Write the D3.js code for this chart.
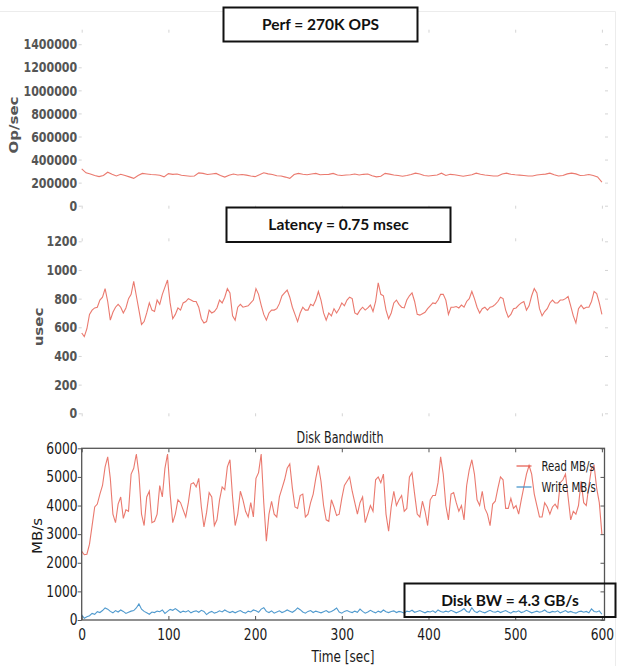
<!DOCTYPE html>
<html>
<head>
<meta charset="utf-8">
<script src="https://cdn.jsdelivr.net/npm/d3@7"></script>
<style>
body{margin:0;background:#fff;}
</style>
</head>
<body>
<div id="chart"></div>
<script>
// time axis (seconds)
var opsTime = d3.range(0,601,5);
var bwTime = d3.range(0,601,3);
var timeTicks = [0,100,200,300,400,500,600];

// Op/sec, every 5 s
var opsValues = [
  320000,285000,275000,262000,252000,262000,290000,272000,258000,272000,
  262000,250000,237000,262000,280000,275000,270000,268000,264000,250000,
  278000,272000,275000,264000,260000,255000,258000,285000,280000,270000,
  275000,280000,262000,248000,264000,275000,266000,270000,265000,258000,
  252000,268000,285000,276000,270000,260000,258000,248000,237000,270000,
  280000,272000,268000,275000,280000,268000,270000,272000,280000,266000,
  262000,266000,268000,275000,266000,272000,275000,260000,250000,256000,
  280000,274000,266000,262000,255000,262000,270000,282000,275000,262000,
  258000,262000,266000,282000,262000,272000,268000,262000,255000,262000,
  268000,282000,272000,266000,262000,258000,258000,275000,282000,272000,
  268000,265000,262000,258000,258000,266000,270000,274000,282000,268000,
  258000,262000,276000,282000,276000,262000,264000,270000,262000,250000,
  205000];
var opsTicks = [0,200000,400000,600000,800000,1000000,1200000,1400000];

// latency usec, every 3 s
var latValues = [
  560,535,590,690,720,735,740,790,810,870,
  780,650,705,740,760,740,700,735,800,830,
  920,820,720,620,640,700,770,720,710,790,
  760,830,880,930,770,660,690,735,720,770,
  780,800,790,780,780,740,660,630,640,720,
  700,710,735,790,770,810,870,840,680,650,
  740,760,740,745,750,770,790,870,830,755,
  690,650,700,720,720,730,765,820,840,860,
  810,740,690,640,700,740,720,720,760,750,
  790,850,790,700,650,700,680,730,700,730,
  770,750,790,810,800,700,690,720,740,720,
  735,755,710,780,910,830,820,720,660,700,
  770,790,760,740,735,790,820,840,780,690,
  685,695,705,730,750,770,765,790,830,830,
  790,690,740,740,745,735,755,740,780,800,
  850,800,740,700,730,740,720,740,745,760,
  780,810,800,720,670,690,730,735,755,770,
  780,720,750,820,870,840,730,680,710,730,
  770,790,770,770,790,790,800,815,750,680,
  630,730,755,730,740,740,780,850,835,770,
  690];
var latTicks = [0,200,400,600,800,1000,1200];

// disk bandwidth MB/s, every 3 s
var readValues = [
  2400,2280,2300,2650,3300,3950,4050,4400,4700,5350,
  5700,4950,3700,3400,4050,4300,3550,3850,3800,5100,
  5300,5800,5100,3700,3300,4300,4500,3400,3450,3700,
  4700,4300,5300,5800,4400,3400,3700,4200,4100,3850,
  3600,4100,4750,4800,4650,4950,3950,3250,3750,4450,
  4300,3300,3500,4200,4650,4550,5350,5600,4300,3300,
  3700,4500,4200,3800,3600,4100,3600,4950,5150,5800,
  4100,2750,3700,4150,3700,3600,4300,4600,4900,5300,
  5450,4600,3950,3900,4350,4400,3600,3700,4100,4400,
  4950,5400,4850,4000,3500,3450,4200,3950,3650,3700,
  4250,4700,4850,5000,4500,4100,3700,4100,4300,3400,
  3700,4000,3800,4900,5000,4800,5100,3700,3100,3950,
  4500,4000,4200,4350,3800,3900,5000,5150,4400,3700,
  3600,4150,3800,3300,4200,4350,4350,4800,5700,5100,
  4000,3500,4400,4450,4100,3800,4000,3500,4700,5250,
  5600,5100,4200,4000,4500,3900,3700,3300,4050,4150,
  4600,5000,4900,3900,3900,4250,3900,4000,3700,4200,
  4650,5100,5400,5100,4400,4000,3600,3600,4100,3950,
  3700,3950,4050,3900,4800,4900,5100,4300,3500,3800,
  3700,4000,4850,4100,4000,4700,5300,5400,4600,4100,
  3000];
var writeValues = [
  180,60,110,150,230,200,290,260,330,420,
  380,300,250,330,280,350,300,230,270,310,
  330,420,560,380,300,250,200,280,260,310,
  290,350,230,300,370,340,400,330,260,310,
  280,330,250,300,320,270,340,300,190,260,
  300,240,270,320,280,350,300,260,300,250,
  300,330,270,240,310,280,350,320,270,380,
  430,300,260,320,240,280,320,260,300,350,
  310,270,330,420,360,280,240,300,330,260,
  310,280,250,290,330,270,300,350,420,280,
  240,300,330,290,260,310,270,380,300,240,
  280,340,290,250,310,270,350,290,260,300,
  320,260,300,280,240,310,290,340,270,300,
  330,290,250,300,280,320,260,350,300,270,
  310,280,340,300,250,290,330,400,300,270,
  430,300,260,320,280,250,300,340,290,270,
  310,260,300,330,280,240,300,280,320,260,
  290,340,300,250,280,310,270,300,350,280,
  260,300,280,320,250,290,330,270,300,260,
  240,290,310,270,300,250,390,300,280,320,
  200];
var bwTicks = [0,1000,2000,3000,4000,5000,6000];
var legendNames = ["Read MB/s","Write MB/s"];
var boxLabels = ["Perf = 270K OPS","Latency = 0.75 msec","Disk BW = 4.3 GB/s"];

var width=618, height=666;
var redLine="#e5584a", blueLine="#3d8fc9";

var svg = d3.select("#chart").append("svg")
    .attr("width",width)
    .attr("height",height);

// faint outer border from the screenshot
svg.append("path")
    .attr("d","M0,11.5H615.5V666")
    .attr("fill","none")
    .attr("stroke","#ececec");

var xScale = d3.scaleLinear()
    .domain([0,603])
    .range([81.7,604.5]);

function drawFaintPanel(yScale,ticks,times,values,label,labelX,labelY){
  var top=yScale.range()[1], bottom=yScale.range()[0];
  var left=xScale.range()[0], right=xScale.range()[1];

  var yAxis = d3.axisLeft(yScale).tickValues(ticks).tickSize(3).tickPadding(3).tickFormat(d3.format("d"));
  var g = svg.append("g").attr("transform","translate("+left+",0)").call(yAxis);
  g.select(".domain").remove();
  g.selectAll("line").attr("stroke","#d4d4d4");
  g.selectAll("text")
      .attr("fill","#555")
      .attr("font-family","DejaVu Sans")
      .attr("font-weight","bold")
      .attr("font-size",14.5)
      .attr("transform","scale(0.76,1)");

  var gr = svg.append("g").attr("transform","translate("+(right+0.5)+",0)")
      .call(d3.axisRight(yScale).tickValues(ticks).tickSize(3).tickFormat(""));
  gr.select(".domain").remove();
  gr.selectAll("line").attr("stroke","#d4d4d4");

  var gt = svg.append("g").attr("transform","translate(0,"+top+")")
      .call(d3.axisTop(xScale).tickValues(timeTicks).tickSize(3).tickFormat(""));
  gt.select(".domain").remove();
  gt.selectAll("line").attr("stroke","#d4d4d4");
  var gb = svg.append("g").attr("transform","translate(0,"+bottom+")")
      .call(d3.axisBottom(xScale).tickValues(timeTicks).tickSize(3).tickFormat(""));
  gb.select(".domain").remove();
  gb.selectAll("line").attr("stroke","#d4d4d4");

  var line = d3.line()
      .x(function(d,i){ return xScale(times[i]); })
      .y(function(d){ return yScale(d); });
  svg.append("path")
      .datum(values)
      .attr("fill","none")
      .attr("stroke",redLine)
      .attr("stroke-opacity",0.8)
      .attr("stroke-width",1.1)
      .attr("d",line);

  svg.append("text")
      .attr("transform","translate("+labelX+","+labelY+") scale(0.8,1) rotate(-90)")
      .attr("text-anchor","middle")
      .attr("fill","#555")
      .attr("font-family","DejaVu Sans")
      .attr("font-weight","bold")
      .attr("font-size",15)
      .text(label);
}

// top panel: throughput
var opsScale = d3.scaleLinear().domain([0,1500000]).range([205.7,32.7]);
drawFaintPanel(opsScale,opsTicks,opsTime,opsValues,"Op/sec",17.5,125);

// middle panel: latency
var latScale = d3.scaleLinear().domain([0,1200]).range([413.3,241.3]);
drawFaintPanel(latScale,latTicks,bwTime,latValues,"usec",43,327);

// bottom panel: disk bandwidth
var bwScale = d3.scaleLinear().domain([0,6000]).range([620,448.3]);
var bl=xScale.range()[0], br=xScale.range()[1];

var lineR = d3.line()
    .x(function(d,i){ return xScale(bwTime[i]); })
    .y(function(d){ return bwScale(d); });

svg.append("path")
    .datum(readValues)
    .attr("fill","none")
    .attr("stroke",redLine)
    .attr("stroke-opacity",0.8)
    .attr("stroke-width",1.1)
    .attr("d",lineR);
svg.append("path")
    .datum(writeValues)
    .attr("fill","none")
    .attr("stroke",blueLine)
    .attr("stroke-opacity",0.9)
    .attr("stroke-width",1.1)
    .attr("d",lineR);

svg.append("rect")
    .attr("x",bl).attr("y",bwScale(6000))
    .attr("width",br-bl).attr("height",bwScale(0)-bwScale(6000))
    .attr("fill","none")
    .attr("stroke","#555")
    .attr("stroke-width",1.3);

var gyl = svg.append("g").attr("transform","translate("+bl+",0)")
    .call(d3.axisLeft(bwScale).tickValues(bwTicks).tickSize(4).tickPadding(1).tickFormat(d3.format("d")));
gyl.select(".domain").remove();
gyl.selectAll("line").attr("stroke","#555");
var gyr = svg.append("g").attr("transform","translate("+br+",0)")
    .call(d3.axisRight(bwScale).tickValues(bwTicks).tickSize(-4).tickFormat(""));
gyr.select(".domain").remove();
gyr.selectAll("line").attr("stroke","#555");
var gxt = svg.append("g").attr("transform","translate(0,"+bwScale(6000)+")")
    .call(d3.axisTop(xScale).tickValues(timeTicks).tickSize(-4).tickFormat(""));
gxt.select(".domain").remove();
gxt.selectAll("line").attr("stroke","#555");
var gxb = svg.append("g").attr("transform","translate(0,"+bwScale(0)+")")
    .call(d3.axisBottom(xScale).tickValues(timeTicks).tickSize(-4).tickPadding(9).tickFormat(d3.format("d")));
gxb.select(".domain").remove();
gxb.selectAll("line").attr("stroke","#555");

[gyl,gxb].forEach(function(ax){
  ax.selectAll("text")
      .attr("fill","#1a1a1a")
      .attr("font-family","DejaVu Sans")
      .attr("font-size",15)
      .attr("transform","scale(0.82,1)");
});

svg.append("text")
    .attr("transform","translate(340,443) scale(0.72,1)")
    .attr("text-anchor","middle")
    .attr("fill","#1a1a1a")
    .attr("font-family","DejaVu Sans")
    .attr("font-size",15.5)
    .text("Disk Bandwdith");

svg.append("text")
    .attr("transform","translate(343,661.5) scale(0.78,1)")
    .attr("text-anchor","middle")
    .attr("fill","#1a1a1a")
    .attr("font-family","DejaVu Sans")
    .attr("font-size",15.5)
    .text("Time [sec]");

svg.append("text")
    .attr("transform","translate(41.5,536) scale(0.95,1) rotate(-90)")
    .attr("text-anchor","middle")
    .attr("fill","#1a1a1a")
    .attr("font-family","DejaVu Sans")
    .attr("font-size",15)
    .text("MB/s");

// legend, no frame
var legend = svg.selectAll(".legend")
    .data(legendNames)
    .enter()
    .append("g")
    .attr("class","legend")
    .attr("transform",function(d,i){ return "translate(516.5,"+(466+i*21)+")"; });
legend.append("line")
    .attr("x1",0).attr("x2",15)
    .attr("stroke",function(d,i){ return i==0?redLine:blueLine; })
    .attr("stroke-width",1.2);
legend.append("text")
    .attr("transform","translate(25,5) scale(0.7,1)")
    .attr("fill","#1a1a1a")
    .attr("font-family","DejaVu Sans")
    .attr("font-size",14.5)
    .text(function(d){ return d; });

// annotation boxes
var boxes = [
  {x:223.5,y:7.5,w:194,h:34,fill:"#fff"},
  {x:226.5,y:207.5,w:224,h:34.5,fill:"#fff"},
  {x:404.5,y:583.5,w:211,h:33.5,fill:"none"}
];
boxes.forEach(function(b,i){
  svg.append("rect")
      .attr("x",b.x).attr("y",b.y)
      .attr("width",b.w).attr("height",b.h)
      .attr("fill",b.fill)
      .attr("stroke","#111")
      .attr("stroke-width",2);
  svg.append("text")
      .attr("x",b.x+b.w/2)
      .attr("y",b.y+b.h/2+5.5)
      .attr("text-anchor","middle")
      .attr("font-family","Lato")
      .attr("font-weight","bold")
      .attr("font-size",15.5)
      .attr("fill","#111")
      .text(boxLabels[i]);
});
</script>
</body>
</html>
